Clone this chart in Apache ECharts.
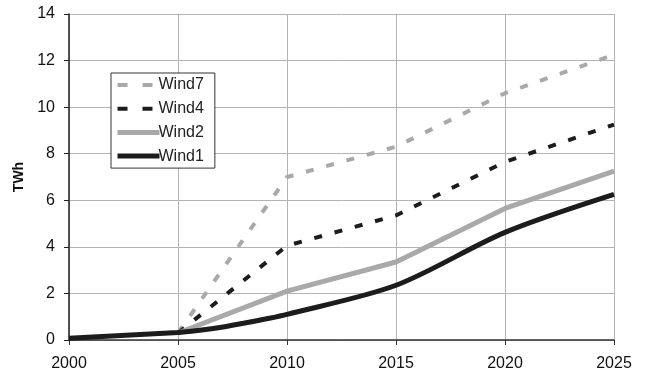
<!DOCTYPE html>
<html>
<head>
<meta charset="utf-8">
<script src="https://cdn.jsdelivr.net/npm/echarts@6/dist/echarts.min.js"></script>
<style>
  html, body { margin: 0; padding: 0; background: #fff; }
  #chart { width: 645px; height: 373px; }
</style>
</head>
<body>
<div id="chart"></div>
<script>
// Wind power generation scenarios, TWh per year
const wind7Years = [2005, 2010, 2015, 2020, 2025];
const wind7Values = [0.3, 7.0, 8.3, 10.6, 12.25];

const wind4Years = [2005, 2010, 2015, 2020, 2025];
const wind4Values = [0.3, 4.05, 5.35, 7.65, 9.25];

const wind2Years = [2005, 2010, 2015, 2020, 2025];
const wind2Values = [0.3, 2.1, 3.35, 5.65, 7.25];

const wind1Years = [2000, 2005, 2006, 2007, 2008, 2009, 2010, 2015, 2020, 2025];
const wind1Values = [0.08, 0.32, 0.42, 0.55, 0.72, 0.9, 1.1, 2.35, 4.62, 6.25];

const xTicks = { min: 2000, max: 2025, step: 5 };
const yTicks = { min: 0, max: 14, step: 2 };

const GREY = '#a9a9a9';
const BLACK = '#1c1c1c';
const FONT = 'Liberation Sans, Arial, sans-serif';

function pairs(xs, ys) { return xs.map((x, i) => [x, ys[i]]); }

const chart = echarts.init(document.getElementById('chart'), null, { renderer: 'canvas' });

chart.setOption({
  animation: false,
  backgroundColor: '#ffffff',
  grid: { left: 69, right: 31, top: 14, bottom: 33, containLabel: false },
  legend: {
    orient: 'vertical',
    left: 111,
    top: 73,
    padding: [4, 11, 4, 4],
    itemWidth: 42,
    itemHeight: 16,
    itemGap: 7.7,
    borderColor: '#333',
    borderWidth: 1,
    backgroundColor: '#fff',
    itemStyle: { opacity: 0 },
    textStyle: { fontFamily: FONT, fontSize: 16, color: '#222', padding: [0, 0, 0, -6] },
    data: [
      { name: 'Wind7', lineStyle: { width: 4, type: [10, 15], cap: 'butt' } },
      { name: 'Wind4', lineStyle: { width: 4, type: [10, 15], cap: 'butt' } },
      { name: 'Wind2', lineStyle: { width: 5 } },
      { name: 'Wind1', lineStyle: { width: 5 } }
    ]
  },
  xAxis: {
    type: 'value',
    min: xTicks.min,
    max: xTicks.max,
    interval: xTicks.step,
    axisLine: { show: true, lineStyle: { color: '#333', width: 1.5 } },
    axisTick: { show: true, length: 5, lineStyle: { color: '#333' } },
    axisLabel: {
      fontFamily: FONT, fontSize: 16, color: '#111', margin: 16,
      formatter: v => String(v)
    },
    splitLine: { show: true, lineStyle: { color: '#b3b3b3', width: 1 } }
  },
  yAxis: {
    type: 'value',
    min: yTicks.min,
    max: yTicks.max,
    interval: yTicks.step,
    name: 'TWh',
    nameLocation: 'middle',
    nameGap: 42,
    nameRotate: 90,
    nameTextStyle: { fontFamily: FONT, fontSize: 14, fontWeight: 'bold', color: '#111' },
    axisLine: { show: true, lineStyle: { color: '#222', width: 1.5 } },
    axisTick: { show: true, length: 5, lineStyle: { color: '#222' } },
    axisLabel: { fontFamily: FONT, fontSize: 16, color: '#111', margin: 14 },
    splitLine: { show: true, lineStyle: { color: '#b3b3b3', width: 1 } }
  },
  series: [
    {
      name: 'Wind7', type: 'line', data: pairs(wind7Years, wind7Values),
      symbol: 'none', color: GREY,
      lineStyle: { color: GREY, width: 4, type: [8, 13], cap: 'butt' }
    },
    {
      name: 'Wind4', type: 'line', data: pairs(wind4Years, wind4Values),
      symbol: 'none', color: BLACK,
      lineStyle: { color: BLACK, width: 4, type: [8, 13], cap: 'butt' }
    },
    {
      name: 'Wind2', type: 'line', data: pairs(wind2Years, wind2Values),
      symbol: 'none', color: GREY,
      lineStyle: { color: GREY, width: 5 }
    },
    {
      name: 'Wind1', type: 'line', data: pairs(wind1Years, wind1Values),
      symbol: 'none', color: BLACK, smooth: 0.3,
      lineStyle: { color: BLACK, width: 5 }
    }
  ]
});
</script>
</body>
</html>
